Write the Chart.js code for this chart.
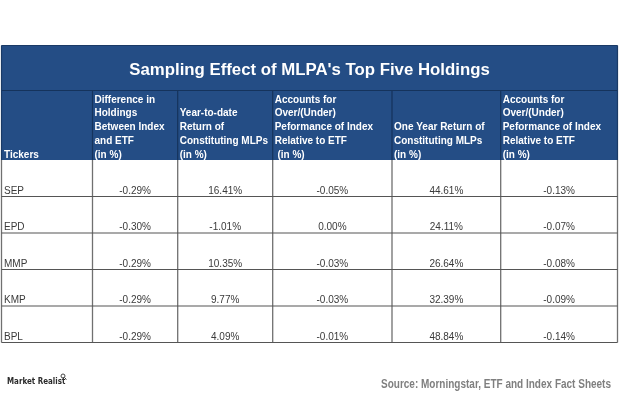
<!DOCTYPE html>
<html>
<head>
<meta charset="utf-8">
<script src="https://cdn.jsdelivr.net/npm/chart.js@4/dist/chart.umd.min.js"></script>
<style>
  html, body { margin: 0; padding: 0; background: #ffffff; }
  #wrap { width: 620px; height: 413px; position: relative; }
</style>
</head>
<body>
<div id="wrap"><canvas id="c" width="620" height="413"></canvas></div>
<script>
// ---- data ----
const chartTitle = "Sampling Effect of MLPA's Top Five Holdings";
const tickers = ['SEP', 'EPD', 'MMP', 'KMP', 'BPL'];
const diffHoldings = [-0.29, -0.30, -0.29, -0.29, -0.29];
const ytdReturn = [16.41, -1.01, 10.35, 9.77, 4.09];
const ytdContribution = [-0.05, 0.00, -0.03, -0.03, -0.01];
const oneYearReturn = [44.61, 24.11, 26.64, 32.39, 48.84];
const oneYearContribution = [-0.13, -0.07, -0.08, -0.09, -0.14];
const columnHeaders = [
  ['Tickers'],
  ['Difference in', 'Holdings', 'Between Index', 'and ETF', '(in %)'],
  ['Year-to-date', 'Return of', 'Constituting MLPs', '(in %)'],
  ['Accounts for', 'Over/(Under)', 'Peformance of Index', 'Relative to ETF', ' (in %)'],
  ['One Year Return of', 'Constituting MLPs', '(in %)'],
  ['Accounts for', 'Over/(Under)', 'Peformance of Index', 'Relative to ETF', '(in %)']
];
const sourceText = 'Source: Morningstar, ETF and Index Fact Sheets';
const brandText = 'Market Realist';

// ---- layout (table units) ----
const colEdges = [0, 91, 176.2, 271.2, 390.5, 499.2, 616];
const titleBottom = 45;
const headerBottom = 114.5;
const rowHeight = 36.5;
const tableBottom = headerBottom + rowHeight * tickers.length;
const valueColumns = [diffHoldings, ytdReturn, ytdContribution, oneYearReturn, oneYearContribution];

function rowTop(i) { return headerBottom + i * rowHeight; }
function colCenter(c) { return (colEdges[c] + colEdges[c + 1]) / 2; }

const datasets = [];
datasets.push({
  label: 'Tickers',
  data: tickers.map((t, i) => ({ x: colEdges[0] + 2.5, y: rowTop(i) + 33.8, text: t })),
  align: 'left'
});
valueColumns.forEach((arr, k) => {
  datasets.push({
    label: 'col' + (k + 1),
    data: arr.map((v, i) => ({ x: colCenter(k + 1), y: rowTop(i) + 33.8, text: v.toFixed(2) + '%' })),
    align: 'center'
  });
});
datasets.forEach(d => { d.pointRadius = 0; d.pointHoverRadius = 0; d.showLine = false; });

const tablePlugin = {
  id: 'tablePlugin',
  beforeDatasetsDraw(chart) {
    const ctx = chart.ctx;
    const xs = chart.scales.x, ys = chart.scales.y;
    const X = v => xs.getPixelForValue(v);
    const Y = v => ys.getPixelForValue(v);
    ctx.save();
    // navy header block
    ctx.fillStyle = '#244d85';
    ctx.fillRect(X(0), Y(0), X(616) - X(0), Y(headerBottom) - Y(0));
    // header divider lines
    ctx.strokeStyle = '#15335c';
    ctx.lineWidth = 1.2;
    ctx.beginPath();
    ctx.moveTo(X(0), Y(titleBottom)); ctx.lineTo(X(616), Y(titleBottom));
    for (let c = 1; c < colEdges.length - 1; c++) {
      ctx.moveTo(X(colEdges[c]), Y(titleBottom)); ctx.lineTo(X(colEdges[c]), Y(headerBottom));
    }
    ctx.stroke();
    ctx.beginPath();
    ctx.moveTo(X(0), Y(0)); ctx.lineTo(X(616), Y(0));
    ctx.moveTo(X(0), Y(0)); ctx.lineTo(X(0), Y(headerBottom));
    ctx.moveTo(X(616), Y(0)); ctx.lineTo(X(616), Y(headerBottom));
    ctx.strokeStyle = '#1a3a66';
    ctx.stroke();
    // body vertical lines
    ctx.strokeStyle = '#707070';
    ctx.lineWidth = 1.3;
    ctx.beginPath();
    for (let c = 0; c < colEdges.length; c++) {
      ctx.moveTo(X(colEdges[c]), Y(headerBottom)); ctx.lineTo(X(colEdges[c]), Y(tableBottom));
    }
    ctx.stroke();
    // body horizontal lines
    ctx.strokeStyle = '#555555';
    ctx.lineWidth = 1.2;
    ctx.beginPath();
    for (let i = 1; i <= tickers.length; i++) {
      ctx.moveTo(X(0), Y(rowTop(i))); ctx.lineTo(X(616), Y(rowTop(i)));
    }
    ctx.stroke();
    // title
    ctx.fillStyle = '#ffffff';
    ctx.font = 'bold 16.8px "Liberation Sans", Arial, sans-serif';
    ctx.textAlign = 'center';
    ctx.textBaseline = 'alphabetic';
    ctx.fillText(chartTitle, X(308), Y(29.8));
    // column headers
    ctx.font = 'bold 10px "Liberation Sans", Arial, sans-serif';
    ctx.textAlign = 'left';
    columnHeaders.forEach((lines, c) => {
      const n = lines.length;
      lines.forEach((ln, j) => {
        const yv = 112 - (n - 1 - j) * 13.75;
        ctx.fillText(ln, X(colEdges[c] + (c === 0 ? 2.5 : 2)), Y(yv));
      });
    });
    ctx.restore();
  },
  afterDatasetsDraw(chart) {
    const ctx = chart.ctx;
    ctx.save();
    ctx.fillStyle = '#3a3a3a';
    ctx.font = '10px "Liberation Sans", Arial, sans-serif';
    ctx.textBaseline = 'alphabetic';
    chart.data.datasets.forEach((ds, di) => {
      const meta = chart.getDatasetMeta(di);
      ctx.textAlign = ds.align;
      meta.data.forEach((el, i) => {
        ctx.fillText(ds.data[i].text, el.x, el.y);
      });
    });
    ctx.restore();
  },
  afterDraw(chart) {
    const ctx = chart.ctx;
    ctx.save();
    // brand
    ctx.fillStyle = '#2b2b2b';
    ctx.font = 'bold 9px "DejaVu Sans Condensed", "Liberation Sans Narrow", sans-serif';
    ctx.textAlign = 'left';
    ctx.textBaseline = 'alphabetic';
    ctx.save();
    ctx.translate(7, 384);
    ctx.scale(0.88, 1);
    ctx.fillText(brandText, 0, 0);
    ctx.restore();
    ctx.strokeStyle = '#444';
    ctx.lineWidth = 1;
    ctx.beginPath();
    ctx.arc(63, 376, 2, 0, Math.PI * 2);
    ctx.moveTo(64.5, 377.5); ctx.lineTo(66.5, 379.5);
    ctx.stroke();
    // source
    ctx.fillStyle = '#7f7f7f';
    ctx.font = 'bold 12px "Liberation Sans", Arial, sans-serif';
    const w = ctx.measureText(sourceText).width;
    const targetW = 230;
    ctx.translate(611, 387.5);
    ctx.scale(targetW / w, 1);
    ctx.textAlign = 'right';
    ctx.fillText(sourceText, 0, 0);
    ctx.restore();
  }
};

new Chart(document.getElementById('c'), {
  type: 'scatter',
  data: { datasets },
  options: {
    responsive: false,
    devicePixelRatio: 1,
    animation: false,
    events: [],
    layout: { padding: { left: 1.5, right: 2.5, top: 45.5, bottom: 413 - 45.5 - 297 } },
    plugins: { legend: { display: false }, tooltip: { enabled: false }, title: { display: false } },
    scales: {
      x: { type: 'linear', min: 0, max: 616, display: false },
      y: { type: 'linear', min: 0, max: 297, reverse: true, display: false }
    }
  },
  plugins: [tablePlugin]
});
</script>
</body>
</html>
